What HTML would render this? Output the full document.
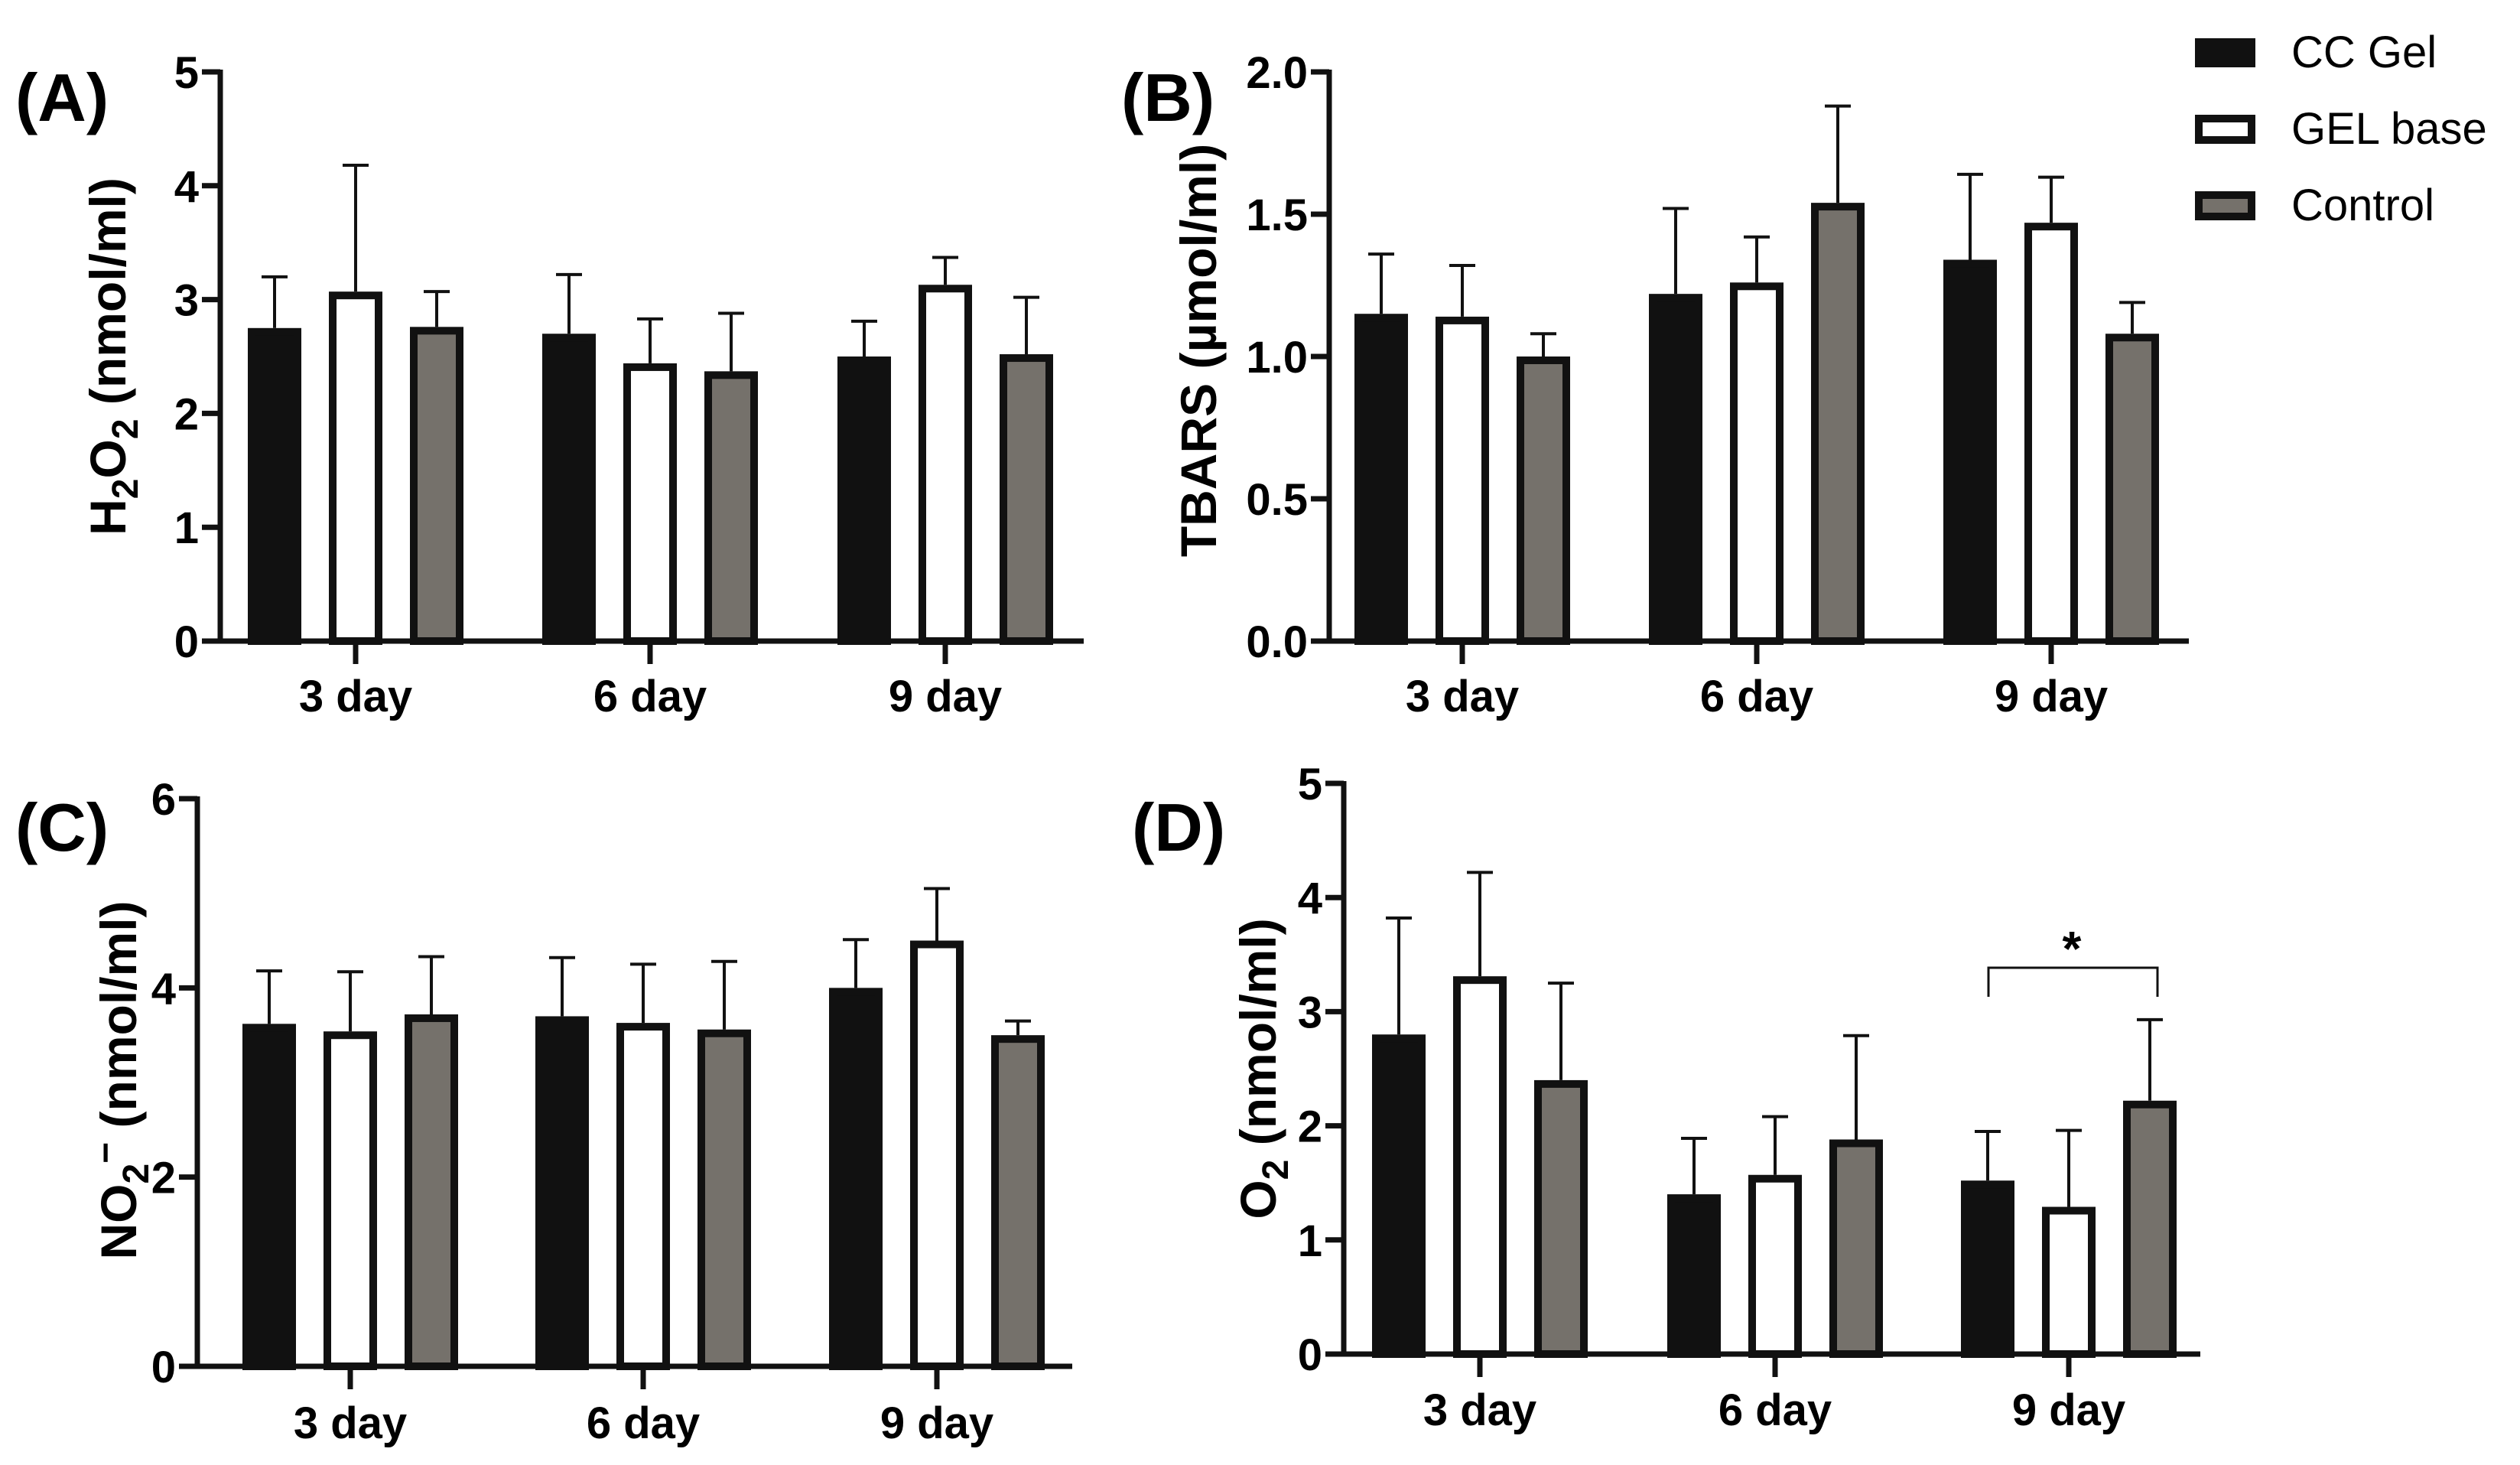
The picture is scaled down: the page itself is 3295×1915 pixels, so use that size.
<!DOCTYPE html>
<html><head><meta charset="utf-8"><style>
html,body{margin:0;padding:0;background:#fff;}
svg{display:block;}
text{font-family:"Liberation Sans",sans-serif;}
.tk{font-family:"Liberation Sans Narrow","Liberation Sans",sans-serif;font-weight:bold;font-size:58px;}
.yt{font-weight:bold;font-size:66px;}
.pl{font-family:"Liberation Sans Narrow","Liberation Sans",sans-serif;font-weight:bold;font-size:88px;}
</style></head><body>
<svg id="fig" width="3295" height="1915" viewBox="0 0 3295 1915" xmlns="http://www.w3.org/2000/svg">
<rect width="3295" height="1915" fill="#fff"/>
<g id="legend">
 <g><rect x="2870" y="50" width="79" height="38" fill="#111"/><text x="2996" y="88" font-size="58">CC Gel</text></g>
 <g><rect x="2875" y="155" width="69" height="28" fill="#fff" stroke="#111" stroke-width="10"/><text x="2996" y="188" font-size="58">GEL base</text></g>
 <g><rect x="2875" y="255" width="69" height="28" fill="#75716b" stroke="#111" stroke-width="10"/><text x="2996" y="288" font-size="58">Control</text></g>
</g>
</svg>
<script>
const categories = ["3 day","6 day","9 day"];
const seriesNames = ["CC Gel","GEL base","Control"];
// Panel A: H2O2
const aCC = [2.75,2.70,2.50], aCCErr = [3.20,3.22,2.81];
const aGEL = [3.07,2.44,3.13], aGELErr = [4.18,2.83,3.37];
const aCtrl = [2.76,2.37,2.52], aCtrlErr = [3.07,2.88,3.02];
const aTicks = [0,1,2,3,4,5];
// Panel B: TBARS
const bCC = [1.15,1.22,1.34], bCCErr = [1.36,1.52,1.64];
const bGEL = [1.14,1.26,1.47], bGELErr = [1.32,1.42,1.63];
const bCtrl = [1.00,1.54,1.08], bCtrlErr = [1.08,1.88,1.19];
const bTicks = ["0.0","0.5","1.0","1.5","2.0"];
// Panel C: NO2-
const cCC = [3.62,3.70,4.00], cCCErr = [4.18,4.32,4.51];
const cGEL = [3.54,3.63,4.50], cGELErr = [4.17,4.25,5.05];
const cCtrl = [3.72,3.56,3.50], cCtrlErr = [4.33,4.28,3.65];
const cTicks = [0,2,4,6];
// Panel D: O2
const dCC = [2.80,1.40,1.52], dCCErr = [3.82,1.89,1.95];
const dGEL = [3.31,1.57,1.29], dGELErr = [4.22,2.08,1.96];
const dCtrl = [2.40,1.88,2.22], dCtrlErr = [3.25,2.79,2.93];
const dTicks = [0,1,2,3,4,5];

const NS="http://www.w3.org/2000/svg";
const svg=document.getElementById('fig');
function mk(tag,attrs,parent){const e=document.createElementNS(NS,tag);for(const k in attrs)e.setAttribute(k,attrs[k]);(parent||svg).appendChild(e);return e;}
const fills=["#111","#fff","#75716b"];

function panel(p){
  const g=mk('g',{});
  
  
  const ymax=parseFloat(p.ticks[p.ticks.length-1]);
  const Y=v=>p.y0-(v/ymax)*(p.y0-p.ytop);
  const series=[[p.s[0],p.e[0]],[p.s[1],p.e[1]],[p.s[2],p.e[2]]];
  const offs=[-106,0,106];
  categories.forEach((c,i)=>{
    series.forEach((s,j)=>{
      const cx=p.cx[i]+offs[j];
      const v=s[0][i], ev=s[1][i];
      const el=mk('line',{x1:cx,x2:cx,y1:Y(ev),y2:Y(v),stroke:'#111','stroke-width':4},g);
      
      
      const cap=mk('line',{x1:cx-17,x2:cx+17,y1:Y(ev),y2:Y(ev),stroke:'#111','stroke-width':4},g);
      
      
      const b=mk('rect',{x:cx-30,y:Y(v)+5,width:60,height:p.y0-Y(v)-5,fill:fills[j],stroke:'#111','stroke-width':10},g);
      
      
    });
    const t=mk('line',{x1:p.cx[i],x2:p.cx[i],y1:p.y0,y2:p.y0+30,stroke:'#111','stroke-width':7},g);
    
    
    const lt=mk('text',{x:p.cx[i],y:p.catY,'text-anchor':'middle',class:'tk'},g);
    lt.textContent=c;
    
    
  });
  const ya=mk('line',{x1:p.ax,x2:p.ax,y1:p.ytop-3,y2:p.y0+3,stroke:'#111','stroke-width':7},g);
  
  
  const xa=mk('line',{x1:p.ax-24,x2:p.xend,y1:p.y0,y2:p.y0,stroke:'#111','stroke-width':7},g);
  
  
  p.ticks.forEach(tv=>{
    const yy=Y(parseFloat(tv));
    const tl=mk('line',{x1:p.ax-24,x2:p.ax,y1:yy,y2:yy,stroke:'#111','stroke-width':7},g);
    
    
    const tx=mk('text',{x:p.ax-28,y:yy+21,'text-anchor':'end',class:'tk'},g);
    tx.textContent=tv;
    
    
  });
  const yt=mk('text',{x:0,y:0,'text-anchor':'middle',class:'yt',transform:'translate('+p.ytx+','+p.yty+') rotate(-90)'},g);
  yt.innerHTML=p.title;
  
  
  const pl=mk('text',{x:p.plx,y:p.ply,class:'pl'},g);
  pl.textContent='('+p.id.toUpperCase()+')';
  
  
  return {g,Y};
}
panel({id:'a',ax:288,ytop:94,y0:838,xend:1417,cx:[465,850,1236],catY:930,ticks:aTicks,
  s:[aCC,aGEL,aCtrl],e:[aCCErr,aGELErr,aCtrlErr],ytx:164,yty:466,plx:20,ply:158,
  title:'H<tspan dy="16" font-size="48">2</tspan><tspan dy="-16">O</tspan><tspan dy="16" font-size="48">2</tspan><tspan dy="-16"> (nmol/ml)</tspan>'});
panel({id:'b',ax:1738,ytop:94,y0:838,xend:2862,cx:[1912,2297,2682],catY:930,ticks:bTicks,
  s:[bCC,bGEL,bCtrl],e:[bCCErr,bGELErr,bCtrlErr],ytx:1590,yty:458,plx:1466,ply:158,
  title:'TBARS (µmol/ml)'});
panel({id:'c',ax:258,ytop:1044,y0:1786,xend:1402,cx:[458,841,1225],catY:1880,ticks:cTicks,
  s:[cCC,cGEL,cCtrl],e:[cCCErr,cGELErr,cCtrlErr],ytx:178,yty:1412,plx:20,ply:1112,
  title:'NO<tspan dy="16" font-size="48">2</tspan><tspan dy="-40" font-size="48">−</tspan><tspan dy="24"> (nmol/ml)</tspan>'});
const d=panel({id:'d',ax:1757,ytop:1024,y0:1770,xend:2877,cx:[1935,2321,2705],catY:1863,ticks:dTicks,
  s:[dCC,dGEL,dCtrl],e:[dCCErr,dGELErr,dCtrlErr],ytx:1668,yty:1397,plx:1480,ply:1112,
  title:'O<tspan dy="16" font-size="48">2</tspan><tspan dy="-16"> (nmol/ml)</tspan>'});
const br=mk('path',{d:'M2600 1303 V1265 H2821 V1303',fill:'none',stroke:'#111','stroke-width':3},d.g);


const st=mk('text',{x:2709,y:1262,'text-anchor':'middle','font-size':64,'font-weight':'bold'},d.g);
st.textContent='*';


</script>
</body></html>
